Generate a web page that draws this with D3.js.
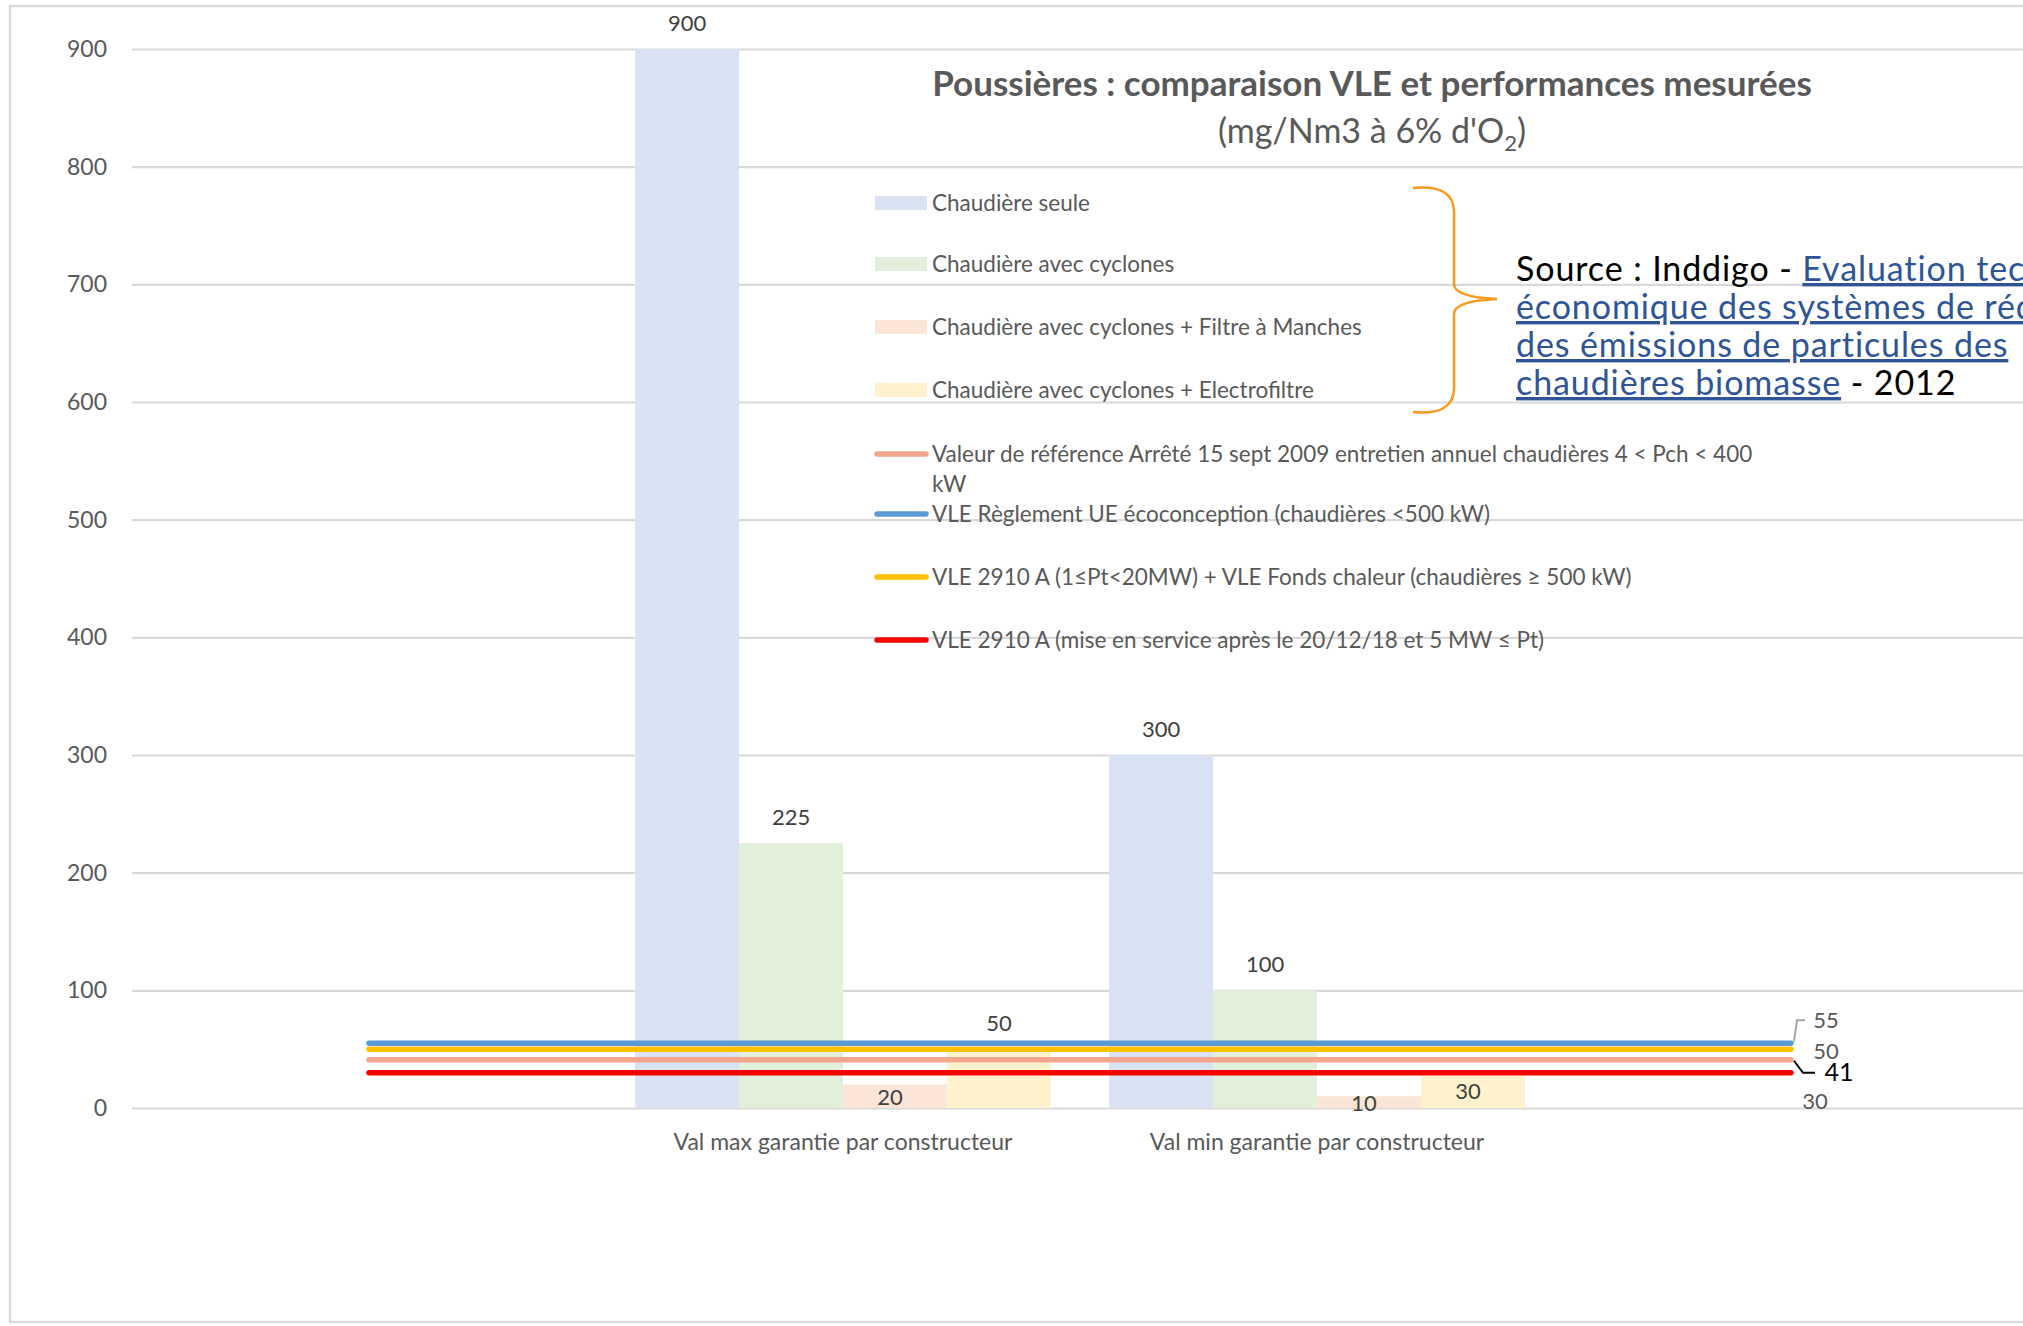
<!DOCTYPE html>
<html>
<head>
<meta charset="utf-8">
<script src="https://cdn.jsdelivr.net/npm/d3@7"></script>
<style>
  body { margin: 0; background: #fff; }
  svg { font-family: Lato, "Open Sans", sans-serif; display: block; }
</style>
</head>
<body>
<div id="chart"></div>
<script>
// categories (first and last are empty slots, the lines run across all four)
const categories = ["", "Val max garantie par constructeur", "Val min garantie par constructeur", " "];

// bar series
const barNames = [
    "Chaudière seule",
    "Chaudière avec cyclones",
    "Chaudière avec cyclones + Filtre à Manches",
    "Chaudière avec cyclones + Electrofiltre"
];
const barValues = [
    [null, 900, 300, null],
    [null, 225, 100, null],
    [null, 20, 10, null],
    [null, 50, 30, null]
];
const barColors = ["#DAE3F3", "#E2EFDA", "#FBE5D6", "#FFF2CC"];

// line series (limit values)
const lineNames = [
    "Valeur de référence Arrêté 15 sept 2009 entretien annuel chaudières 4 < Pch < 400",
    "VLE Règlement UE écoconception (chaudières <500 kW)",
    "VLE 2910 A (1≤Pt<20MW) + VLE Fonds chaleur (chaudières ≥ 500 kW)",
    "VLE 2910 A (mise en service après le 20/12/18 et 5 MW ≤ Pt)"
];
const lineValues = [
    [41, 41, 41, 41],
    [55, 55, 55, 55],
    [50, 50, 50, 50],
    [30, 30, 30, 30]
];
const lineColors = ["#F2A68C", "#5B9BD5", "#FFC000", "#FF0000"];

const yTicks = [0, 100, 200, 300, 400, 500, 600, 700, 800, 900];

const width = 2023, height = 1326;
const plot = { left: 132, right: 2028, top: 49, bottom: 1108 };

const svg = d3.select("#chart").append("svg")
    .attr("width", width)
    .attr("height", height);

// chart frame
svg.append("rect")
    .attr("x", 10).attr("y", 6)
    .attr("width", width + 20).attr("height", 1316)
    .attr("fill", "#fff")
    .attr("stroke", "#D9D9D9")
    .attr("stroke-width", 2.5);

const x = d3.scaleBand().domain(categories).range([plot.left, plot.right]).padding(0);
const xs = d3.scaleBand().domain(d3.range(barNames.length))
    .range([0, x.bandwidth()]).paddingInner(0).paddingOuter(0.28);
const y = d3.scaleLinear().domain([0, 900]).range([plot.bottom, plot.top]);

// gridlines + y labels
const yAxis = svg.append("g")
    .attr("transform", `translate(${plot.left},0)`)
    .call(d3.axisLeft(y).tickValues(yTicks).tickSize(-(plot.right - plot.left)).tickPadding(25));
yAxis.select(".domain").remove();
yAxis.selectAll(".tick line").attr("stroke", "#D9D9D9").attr("stroke-width", 2.2);
yAxis.selectAll(".tick text")
    .attr("fill", "#595959")
    .style("font-size", "23px")
    .style("font-family", "Lato, sans-serif");

// category labels
svg.append("g").selectAll("text")
    .data(categories)
    .join("text")
    .attr("x", d => x(d) + x.bandwidth() / 2)
    .attr("y", 1150)
    .attr("text-anchor", "middle")
    .attr("fill", "#595959")
    .style("font-size", "23px")
    .text(d => d.trim());

// bars
const barData = [];
barValues.forEach((vals, s) => {
    vals.forEach((v, c) => {
        if (v !== null) barData.push({ s, c: categories[c], v });
    });
});

svg.append("g").selectAll("rect")
    .data(barData)
    .join("rect")
    .attr("x", d => x(d.c) + xs(d.s))
    .attr("y", d => y(d.v))
    .attr("width", xs.bandwidth())
    .attr("height", d => y(0) - y(d.v))
    .attr("fill", d => barColors[d.s]);

// lines
const line = d3.line()
    .x((d, i) => x(categories[i]) + x.bandwidth() / 2)
    .y(d => y(d));

svg.append("g").selectAll("path")
    .data(lineValues)
    .join("path")
    .attr("d", d => line(d))
    .attr("fill", "none")
    .attr("stroke", (d, i) => lineColors[i])
    .attr("stroke-width", 5.5)
    .attr("stroke-linecap", "round");

// bar value labels (small bars below the limit lines get the label inside)
svg.append("g").selectAll("text")
    .data(barData)
    .join("text")
    .attr("x", d => x(d.c) + xs(d.s) + xs.bandwidth() / 2 - (d.v < 45 ? 5 : 0))
    .attr("y", d => d.v < 45 ? (y(d.v) + y(0)) / 2 + 9 : y(d.v) - 18)
    .attr("text-anchor", "middle")
    .attr("fill", "#404040")
    .style("font-size", "22px")
    .text(d => d.v);

// line end labels
const lastX = x(categories[3]) + x.bandwidth() / 2;
const endLabels = [
    { i: 1, dx: 35, dy: -23, color: "#595959", size: 22, leader: "gray" },
    { i: 2, dx: 35, dy: 2, color: "#595959", size: 22 },
    { i: 0, dx: 48, dy: 13, color: "#000", size: 25, leader: "black" },
    { i: 3, dx: 24, dy: 28, color: "#595959", size: 22 }
];
const endG = svg.append("g");
endLabels.forEach(l => {
    const v = lineValues[l.i][3];
    const ly = y(v) + l.dy;
    if (l.leader === "gray") {
        endG.append("path")
            .attr("d", `M${lastX + 3},${y(v) - 2} L${lastX + 6},${ly} L${lastX + 14},${ly}`)
            .attr("fill", "none").attr("stroke", "#A6A6A6").attr("stroke-width", 2);
    }
    if (l.leader === "black") {
        endG.append("path")
            .attr("d", `M${lastX + 3},${y(v) + 1} L${lastX + 12},${ly} L${lastX + 24},${ly}`)
            .attr("fill", "none").attr("stroke", "#000").attr("stroke-width", 2);
    }
    endG.append("text")
        .attr("x", lastX + l.dx)
        .attr("y", ly + 8)
        .attr("text-anchor", "middle")
        .attr("fill", l.color)
        .style("font-size", l.size + "px")
        .text(v);
});

// title
svg.append("text")
    .attr("x", 1372).attr("y", 96)
    .attr("text-anchor", "middle")
    .attr("fill", "#595959")
    .style("font-size", "35px")
    .style("font-weight", "bold")
    .text("Poussières : comparaison VLE et performances mesurées");

const sub = svg.append("text")
    .attr("x", 1372).attr("y", 143)
    .attr("text-anchor", "middle")
    .attr("fill", "#595959")
    .style("font-size", "34px");
sub.append("tspan").text("(mg/Nm3 à 6% d'O");
sub.append("tspan").attr("dy", 8).style("font-size", "22px").text("2");
sub.append("tspan").attr("dy", -8).text(")");

// legend
const legendY = [203, 264, 327, 390, 454, 514, 577, 640];
const legend = svg.append("g");
barNames.forEach((name, i) => {
    legend.append("rect")
        .attr("x", 875).attr("y", legendY[i] - 7)
        .attr("width", 52).attr("height", 14)
        .attr("fill", barColors[i]);
    legend.append("text")
        .attr("x", 932).attr("y", legendY[i] + 8)
        .attr("fill", "#595959")
        .style("font-size", "22.5px")
        .text(name);
});
lineNames.forEach((name, i) => {
    const ly = legendY[i + 4];
    legend.append("line")
        .attr("x1", 877).attr("x2", 926)
        .attr("y1", ly).attr("y2", ly)
        .attr("stroke", lineColors[i])
        .attr("stroke-width", 5.5)
        .attr("stroke-linecap", "round");
    legend.append("text")
        .attr("x", 932).attr("y", ly + 8)
        .attr("fill", "#595959")
        .style("font-size", "22.5px")
        .text(name);
    if (i === 0) {
        legend.append("text")
            .attr("x", 932).attr("y", ly + 38)
            .attr("fill", "#595959")
            .style("font-size", "22.5px")
            .text("kW");
    }
});

// brace
svg.append("path")
    .attr("d", "M1413,188 Q1454,184 1454,212 L1454,284 Q1454,297 1497,299 Q1454,301 1454,314 L1454,388 Q1454,416 1413,412")
    .attr("fill", "none")
    .attr("stroke", "#F79A1E")
    .attr("stroke-width", 2.5);

// source note
const srcLines = [
    [["Source : Inddigo - ", false], ["Evaluation technico-", true]],
    [["économique des systèmes de réduction", true]],
    [["des émissions de particules des", true]],
    [["chaudières biomasse", true], [" - 2012", false]]
];
const srcY = [281, 319, 357, 395];
srcLines.forEach((parts, i) => {
    const t = svg.append("text")
        .attr("x", 1516).attr("y", srcY[i])
        .style("font-size", "34px")
        .style("letter-spacing", "0.9px");
    parts.forEach(([txt, link]) => {
        t.append("tspan")
            .attr("fill", link ? "#2F5597" : "#000")
            .style("text-decoration", link ? "underline" : "none")
            .text(txt);
    });
});
</script>
</body>
</html>
